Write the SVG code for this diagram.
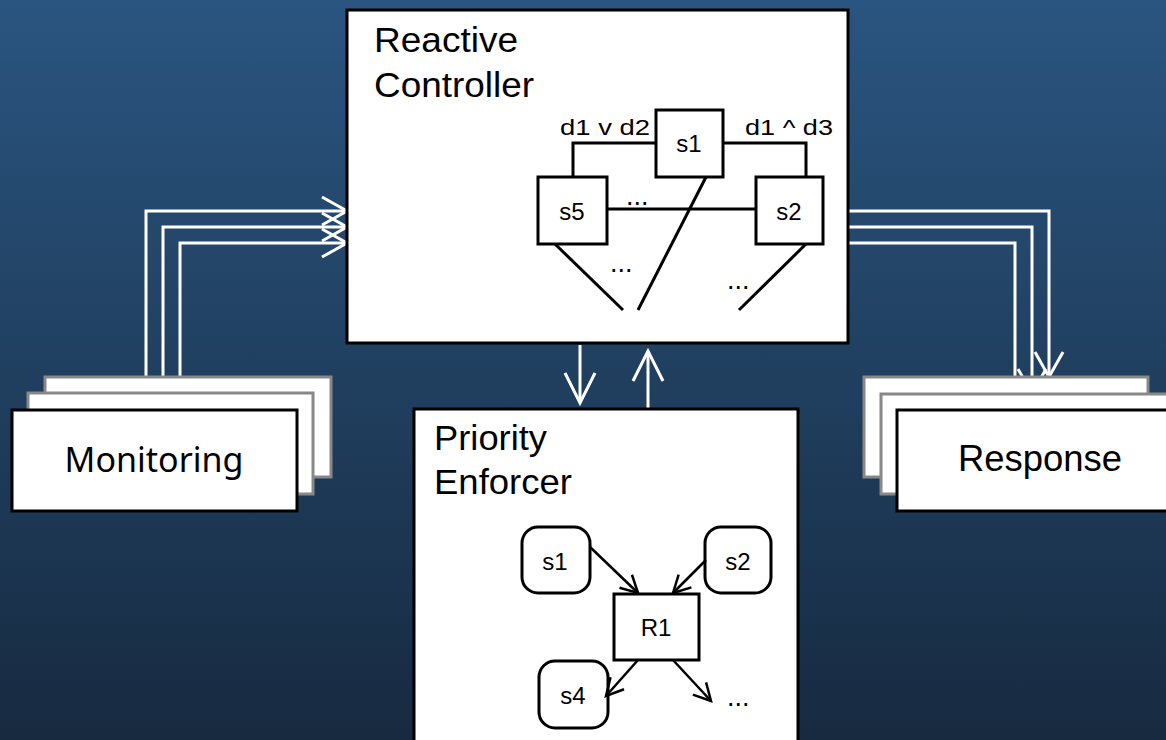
<svg xmlns="http://www.w3.org/2000/svg" width="1166" height="740" viewBox="0 0 1166 740">
<defs>
<linearGradient id="bg" x1="0" y1="0" x2="0" y2="1">
<stop offset="0" stop-color="#2a5580"/>
<stop offset="1" stop-color="#172a40"/>
</linearGradient>
<marker id="wa" markerUnits="userSpaceOnUse" markerWidth="32" markerHeight="34" viewBox="0 0 32 34" refX="28" refY="17" orient="auto">
<path d="M3,3 L28,17 L3,31" fill="none" stroke="#fff" stroke-width="3"/>
</marker>
<marker id="wb" markerUnits="userSpaceOnUse" markerWidth="36" markerHeight="36" viewBox="0 0 36 36" refX="32" refY="18" orient="auto">
<path d="M2,3 L32,18 L2,33" fill="none" stroke="#fff" stroke-width="3"/>
</marker>
<marker id="ba" markerUnits="userSpaceOnUse" markerWidth="22" markerHeight="22" viewBox="0 0 22 22" refX="19" refY="11" orient="auto">
<path d="M2,2 L19,11 L2,20" fill="none" stroke="#000" stroke-width="2.5"/>
</marker>
<style>
.box{fill:#fff;stroke:#000;stroke-width:3}
.gbox{fill:#fff;stroke:#888;stroke-width:3}
.ln{fill:none;stroke:#000;stroke-width:3}
.bl{fill:none;stroke:#000;stroke-width:2.5}
.wl{fill:none;stroke:#fff;stroke-width:3}
.t{font-family:"Liberation Sans",Arial,sans-serif;fill:#000}
.big{font-size:35px}
.sm{font-size:22px}
.dots{font-size:27px}
.nd{font-size:24px}
</style>
</defs>
<rect width="1166" height="740" fill="url(#bg)"/>

<g id="connectors">
<polyline class="wl" points="146,377 146,211 347,211" marker-end="url(#wa)"/>
<polyline class="wl" points="163,393 163,227 347,227" marker-end="url(#wa)"/>
<polyline class="wl" points="180,410 180,243 347,243" marker-end="url(#wa)"/>
<polyline class="wl" points="849,211 1049,211 1049,377" marker-end="url(#wa)"/>
<polyline class="wl" points="849,227 1032,227 1032,394" marker-end="url(#wa)"/>
<polyline class="wl" points="849,243 1015,243 1015,410" marker-end="url(#wa)"/>
<line class="wl" x1="580" y1="345" x2="580" y2="403" marker-end="url(#wb)"/>
<line class="wl" x1="648" y1="409" x2="648" y2="351" marker-end="url(#wb)"/>
</g>

<g id="reactive-controller">
<rect class="box" x="347" y="10" width="501" height="333"/>
<text class="t big" x="374" y="52" textLength="144" lengthAdjust="spacingAndGlyphs">Reactive</text>
<text class="t big" x="374" y="97" textLength="160" lengthAdjust="spacingAndGlyphs">Controller</text>
<g id="rc-edges">
<polyline class="ln" points="656,143 573,143 573,177"/>
<polyline class="ln" points="723,143 806,143 806,177"/>
<line class="ln" x1="607" y1="209" x2="756" y2="209"/>
<line class="ln" x1="706" y1="177" x2="638" y2="310"/>
<line class="ln" x1="555" y1="244" x2="623" y2="310"/>
<line class="ln" x1="806" y1="244" x2="739" y2="310"/>
<text class="t sm" x="560" y="135" textLength="90" lengthAdjust="spacingAndGlyphs">d1 v d2</text>
<text class="t sm" x="745" y="135" textLength="88" lengthAdjust="spacingAndGlyphs">d1 ^ d3</text>
<text class="t dots" x="626" y="205">...</text>
<text class="t dots" x="610" y="272">...</text>
<text class="t dots" x="727" y="289">...</text>
</g>
<g id="rc-s1"><rect class="ln" x="656" y="110" width="67" height="67" fill="#fff"/><text class="t nd" x="689" y="152" text-anchor="middle">s1</text></g>
<g id="rc-s5"><rect class="ln" x="538" y="177" width="69" height="67" fill="#fff"/><text class="t nd" x="572" y="220" text-anchor="middle">s5</text></g>
<g id="rc-s2"><rect class="ln" x="756" y="177" width="67" height="67" fill="#fff"/><text class="t nd" x="789" y="220" text-anchor="middle">s2</text></g>
</g>

<g id="monitoring">
<rect class="gbox" x="45" y="377" width="286" height="100"/>
<rect class="gbox" x="28" y="393" width="285" height="101"/>
<rect class="box" x="12" y="410" width="285" height="101"/>
<text x="154" y="472" text-anchor="middle" font-family="'Noto Sans','Open Sans',sans-serif" font-size="34">Monitoring</text>
</g>

<g id="response">
<rect class="gbox" x="864" y="377" width="284" height="100"/>
<rect class="gbox" x="881" y="394" width="290" height="100"/>
<rect class="box" x="897" y="410" width="275" height="101"/>
<text class="t" x="958" y="471" font-size="36" textLength="164" lengthAdjust="spacingAndGlyphs">Response</text>
</g>

<g id="priority-enforcer">
<rect class="box" x="414" y="409" width="384" height="340"/>
<text class="t big" x="434" y="450" textLength="113" lengthAdjust="spacingAndGlyphs">Priority</text>
<text class="t big" x="434" y="494" textLength="138" lengthAdjust="spacingAndGlyphs">Enforcer</text>
<g id="pe-edges">
<line class="bl" x1="590" y1="547" x2="638" y2="593" marker-end="url(#ba)"/>
<line class="bl" x1="706" y1="560" x2="673" y2="593" marker-end="url(#ba)"/>
<line class="bl" x1="638" y1="660" x2="606" y2="696" marker-end="url(#ba)"/>
<line class="bl" x1="673" y1="660" x2="711" y2="701" marker-end="url(#ba)"/>
<text class="t dots" x="727" y="706">...</text>
</g>
<g id="pe-s1"><rect class="ln" x="522" y="527" width="68" height="66" rx="16" fill="#fff"/><text class="t nd" x="555" y="570" text-anchor="middle">s1</text></g>
<g id="pe-s2"><rect class="ln" x="705" y="527" width="66" height="66" rx="16" fill="#fff"/><text class="t nd" x="738" y="570" text-anchor="middle">s2</text></g>
<g id="pe-r1"><rect class="ln" x="614" y="594" width="85" height="66" fill="#fff"/><text class="t nd" x="656" y="636" text-anchor="middle">R1</text></g>
<g id="pe-s4"><rect class="ln" x="539" y="661" width="69" height="67" rx="16" fill="#fff"/><text class="t nd" x="573" y="704" text-anchor="middle">s4</text></g>
</g>
</svg>
